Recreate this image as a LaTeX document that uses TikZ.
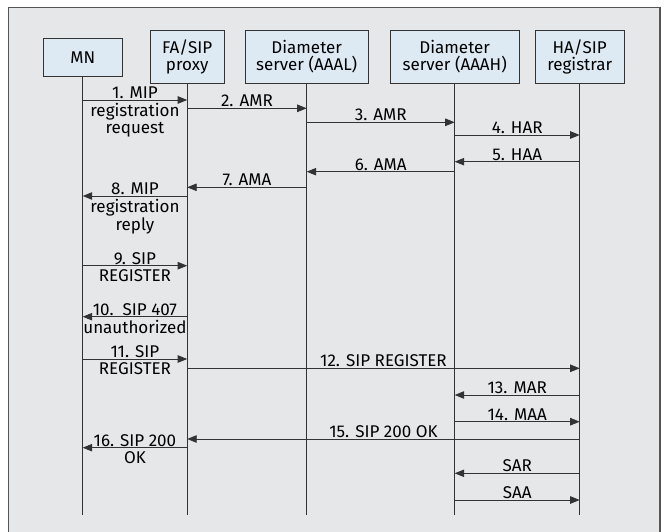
\documentclass[tikz,border=0pt]{standalone}
\usepackage{fontspec}
\setmainfont{Fira Sans}
\usetikzlibrary{arrows.meta, positioning}
\definecolor{framegray}{HTML}{E6E7E8}
\definecolor{frameline}{HTML}{555555}
\definecolor{boxblue}{HTML}{DDEAF4}
\definecolor{inkgray}{HTML}{333333}
\newcommand{\msgtext}[1]{\begin{tabular}[t]{@{}c@{}}#1\end{tabular}}

\begin{document}
\begin{tikzpicture}[x=1pt, y=-1pt, font=\fontsize{17}{16.8}\selectfont,
    entity/.style={draw=inkgray, fill=boxblue, line width=0.9pt, inner sep=0pt, minimum height=53pt, align=center},
    life/.style={draw=inkgray, line width=0.9pt},
    msg/.style={draw=inkgray, line width=0.9pt, -{Triangle[length=9.5pt, width=7.5pt]}},
    lbl/.style={anchor=base, yshift=1.5pt, inner sep=0pt, text=black}]
    \useasboundingbox (0,0) rectangle (664,532);
    \clip (0,0) rectangle (664,532);
    \draw[draw=frameline, fill=framegray, line width=1.4pt] (8.5,7.5) rectangle (660,545);

    \node[entity, minimum width=79pt, minimum height=38.5pt] (mn) at (82.7,57.3) {MN};
    \node[entity, minimum width=74pt] (fa) at (187.2,56.7) {FA/SIP\\proxy};
    \node[entity, minimum width=123pt] (aaal) at (306.7,56.7) {Diameter\\server (AAAL)};
    \node[entity, minimum width=129pt] (aaah) at (454.7,56.7) {Diameter\\server (AAAH)};
    \node[entity, minimum width=89pt] (ha) at (579.7,56.7) {HA/SIP\\registrar};

    \draw[life] (mn.south) -- (mn.south |- 0,515);
    \draw[life] (fa.south) -- (fa.south |- 0,515);
    \draw[life] (aaal.south) -- (aaal.south |- 0,515);
    \draw[life] (aaah.south) -- (aaah.south |- 0,515);
    \draw[life] (ha.south) -- (ha.south |- 0,515);

    \draw[msg] (mn |- 0,100) -- node[lbl] {\msgtext{1. MIP\\registration\\request}} (fa |- 0,100);
    \draw[msg] (fa |- 0,108.3) -- node[lbl] {2. AMR} (aaal |- 0,108.3);
    \draw[msg] (aaal |- 0,122.3) -- node[lbl] {3. AMR} (aaah |- 0,122.3);
    \draw[msg] (aaah |- 0,135) -- node[lbl] {4. HAR} (ha |- 0,135);
    \draw[msg] (ha |- 0,161.7) -- node[lbl] {5. HAA} (aaah |- 0,161.7);
    \draw[msg] (aaah |- 0,171.7) -- node[lbl] {6. AMA} (aaal |- 0,171.7);
    \draw[msg] (aaal |- 0,187.3) -- node[lbl] {7. AMA} (fa |- 0,187.3);
    \draw[msg] (fa |- 0,196) -- node[lbl] {\msgtext{8. MIP\\registration\\reply}} (mn |- 0,196);
    \draw[msg] (mn |- 0,265.7) -- node[lbl] {\msgtext{9. SIP\\REGISTER}} (fa |- 0,265.7);
    \draw[msg] (fa |- 0,316.7) -- node[lbl] {\msgtext{10.\ \ SIP 407\\unauthorized}} (mn |- 0,316.7);
    \draw[msg] (mn |- 0,359) -- node[lbl] {\msgtext{11. SIP\\REGISTER}} (fa |- 0,359);
    \draw[msg] (fa |- 0,368.3) -- node[lbl] {12. SIP REGISTER} (ha |- 0,368.3);
    \draw[msg] (ha |- 0,395) -- node[lbl] {13. MAR} (aaah |- 0,395);
    \draw[msg] (aaah |- 0,421.7) -- node[lbl] {14. MAA} (ha |- 0,421.7);
    \draw[msg] (ha |- 0,439) -- node[lbl] {15. SIP 200 OK} (fa |- 0,439);
    \draw[msg] (fa |- 0,447.7) -- node[lbl] {\msgtext{16. SIP 200\\OK}} (mn |- 0,447.7);
    \draw[msg] (ha |- 0,473.3) -- node[lbl] {SAR} (aaah |- 0,473.3);
    \draw[msg] (aaah |- 0,500) -- node[lbl] {SAA} (ha |- 0,500);
\end{tikzpicture}
\end{document}
